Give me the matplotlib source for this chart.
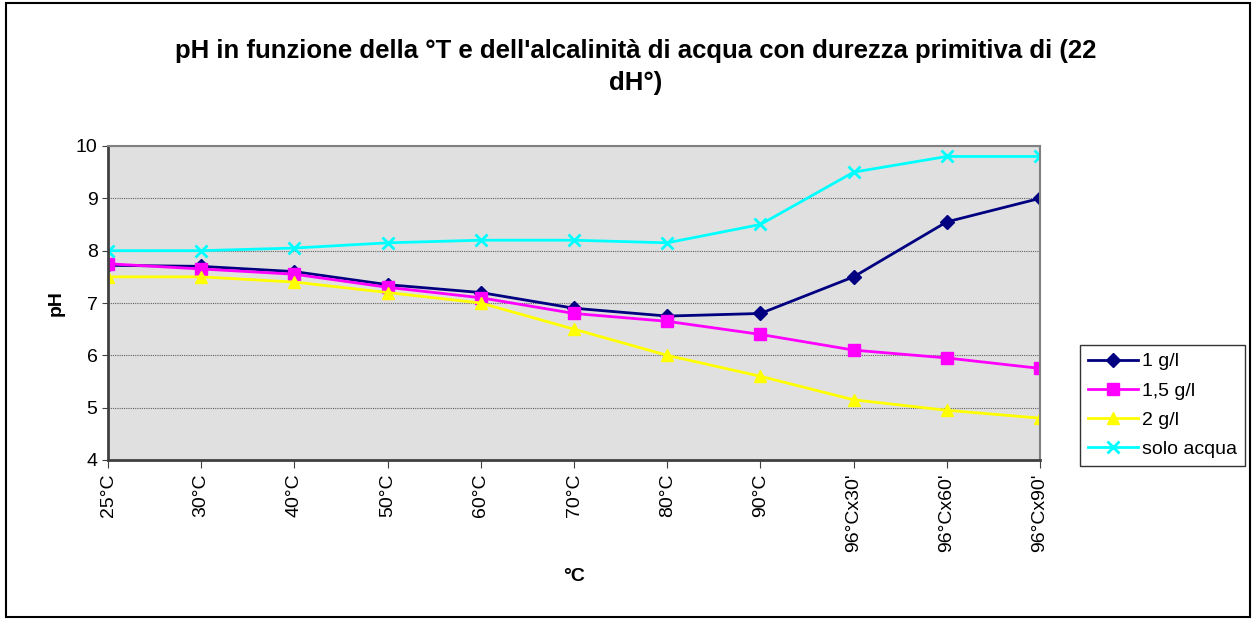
import matplotlib
matplotlib.use('Agg')
import matplotlib.pyplot as plt
from matplotlib.patches import Rectangle

plt.rcParams['font.family'] = ['Liberation Sans', 'DejaVu Sans']

# dati
categorie = ["25°C", "30°C", "40°C", "50°C", "60°C", "70°C", "80°C", "90°C",
             "96°Cx30'", "96°Cx60'", "96°Cx90'"]
ph_1g = [7.72, 7.7, 7.6, 7.35, 7.2, 6.9, 6.75, 6.8, 7.5, 8.55, 9.0]
ph_15g = [7.75, 7.65, 7.55, 7.3, 7.1, 6.8, 6.65, 6.4, 6.1, 5.95, 5.75]
ph_2g = [7.5, 7.5, 7.4, 7.2, 7.0, 6.5, 6.0, 5.6, 5.15, 4.95, 4.8]
ph_acqua = [8.0, 8.0, 8.05, 8.15, 8.2, 8.2, 8.15, 8.5, 9.5, 9.8, 9.8]

fig = plt.figure(figsize=(12.56, 6.21), dpi=100)
# cornice del grafico
fig.patches.append(Rectangle((6 / 1256, 4 / 621), 1244 / 1256, 614 / 621,
                             transform=fig.transFigure, fill=False,
                             edgecolor='black', linewidth=1.5))

ax = fig.add_axes([108 / 1256, 1 - 460 / 621, 932 / 1256, 314 / 621])
ax.set_facecolor('#E0E0E0')

x = range(len(categorie))
ax.plot(x, ph_1g, color='#000080', marker='D', markersize=7, linewidth=2, label='1 g/l')
ax.plot(x, ph_15g, color='#FF00FF', marker='s', markersize=8, linewidth=2, label='1,5 g/l')
ax.plot(x, ph_2g, color='#FFFF00', marker='^', markersize=9, linewidth=2, label='2 g/l')
ax.plot(x, ph_acqua, color='#00FFFF', marker='x', markersize=9, markeredgewidth=2,
        linewidth=2, label='solo acqua')

ax.set_xlim(0, len(categorie) - 1)
ax.set_ylim(4, 10)
ax.set_yticks(range(4, 11))
ax.set_xticks(list(x))
ax.set_xticklabels(categorie, rotation=90, fontsize=14)
ax.tick_params(axis='y', labelsize=14, length=4, direction='out', color='#404040')
ax.tick_params(axis='x', length=6, direction='out', color='#404040')
ax.yaxis.grid(True, color='#606060', linestyle=(0, (1, 1)), linewidth=0.8)
ax.set_axisbelow(True)
ax.spines['left'].set_color('#404040')
ax.spines['bottom'].set_color('#404040')
ax.spines['left'].set_linewidth(2)
ax.spines['bottom'].set_linewidth(2)
ax.spines['top'].set_color('#808080')
ax.spines['right'].set_color('#808080')
ax.spines['top'].set_linewidth(1.5)
ax.spines['right'].set_linewidth(1.5)

ax.set_ylabel('pH', fontsize=14, fontweight='bold', labelpad=8)
ax.set_xlabel('°C', fontsize=14, fontweight='bold', labelpad=12)

fig.text(0.506, 1 - 67 / 621,
         "pH in funzione della °T e dell'alcalinità di acqua con durezza primitiva di (22\ndH°)",
         ha='center', va='center', fontsize=18.5, fontweight='bold', linespacing=1.4)

leg = ax.legend(loc='upper left', bbox_to_anchor=((1080 - 108) / 932, (460 - 345) / 314),
                fontsize=14, frameon=True, fancybox=False, edgecolor='black',
                handlelength=2.6, borderpad=0.4, labelspacing=0.6, handletextpad=0.2,
                borderaxespad=0)
leg.get_frame().set_linewidth(1)

fig.savefig('out.png', dpi=100)
